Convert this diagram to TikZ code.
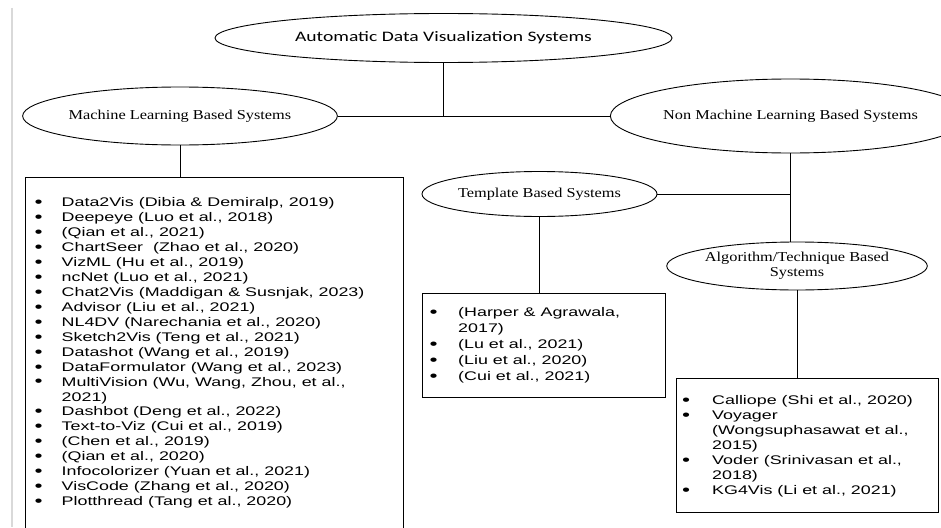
\documentclass[tikz,border=0pt]{standalone}
\usepackage{fontspec}
\usetikzlibrary{shapes.geometric}
\newfontfamily\ttlfont[FakeStretch=1.35]{Carlito}
\newfontfamily\serfont[FakeStretch=1.2]{Liberation Serif}
\newfontfamily\lstfont[FakeStretch=1.43]{Liberation Sans}
\newcommand\bigbul{\raisebox{-0.9pt}{\fontsize{16}{0}\selectfont\textbullet}}
\newcommand\blA{\makebox[27pt][l]{\bigbul}}
\newcommand\nbA{\hspace*{27pt}}
\newcommand\blB{\makebox[28.5pt][l]{\bigbul}}
\newcommand\nbB{\hspace*{28.5pt}}
\newcommand\blC{\makebox[30pt][l]{\bigbul}}
\newcommand\nbC{\hspace*{30pt}}
\begin{document}
\begin{tikzpicture}[x=1pt,y=-1pt,
  ell/.style={draw, ellipse, inner sep=0pt, line width=0.9pt, font=\serfont\fontsize{13.6}{15}\selectfont, align=center},
  conn/.style={draw, line width=0.8pt},
  boxst/.style={draw, line width=0.8pt, rectangle, inner sep=0pt},
  lst/.style={anchor=north west, inner sep=0pt, align=left}
]
\useasboundingbox (0,0) rectangle (941,527);
\fill[white] (0,0) rectangle (941,527);
% page edge line
\coordinate (pgtop) at (11.5,8);
\coordinate (pgbot) at (11.5,527);
\draw[line width=2pt, black!15] (pgtop) -- (pgbot);

% ellipses
\node[ell, minimum width=457pt, minimum height=49pt, font=\ttlfont\fontsize{14.5}{16}\selectfont] (top) at (443.5,38) {Automatic Data Visualization Systems};
\node[ell, minimum width=244pt, minimum height=58pt] (ml) at (180,116) {Machine Learning Based Systems};
\node[ell, minimum width=297pt, minimum height=74pt] (nml) at (790.5,116) {Non Machine Learning Based Systems};
\node[ell, minimum width=235pt, minimum height=45pt] (tmpl) at (539.5,194) {Template Based Systems};
\node[ell, minimum width=243pt, minimum height=48pt] (alg) at (797,266) {Algorithm/Technique Based\\Systems};

% boxes
\node[boxst, minimum width=378pt, minimum height=370pt, anchor=north west] (mlbox) at (25,177) {};
\node[boxst, minimum width=243pt, minimum height=104pt, anchor=north west] (tbox) at (422,293) {};
\node[boxst, minimum width=262pt, minimum height=134pt, anchor=north west] (abox) at (676,378) {};

% connectors
\coordinate (junc) at (top.south |- ml.east);
\draw[conn] (top.south) -- (junc);
\draw[conn] (ml.east) -- (nml.west);
\draw[conn] (ml.south) -- (ml.south |- mlbox.north);
\coordinate (nmlfoot) at (nml.south |- alg.north);
\draw[conn] (nml.south) -- (nmlfoot);
\draw[conn] (tmpl.east) -- (tmpl.east -| nml.south);
\draw[conn] (tmpl.south) -- (tmpl.south |- tbox.north);
\draw[conn] (alg.south) -- (alg.south |- abox.north);

% lists
\node[lst, font=\lstfont\fontsize{12.5}{14.95}\selectfont] (mllist) at (34.5,196) {%
\begin{tabular}{@{}l@{}}
\blA Data2Vis (Dibia \& Demiralp, 2019)\\
\blA Deepeye (Luo et al., 2018)\\
\blA (Qian et al., 2021)\\
\blA ChartSeer\ \ (Zhao et al., 2020)\\
\blA VizML (Hu et al., 2019)\\
\blA ncNet (Luo et al., 2021)\\
\blA Chat2Vis (Maddigan \& Susnjak, 2023)\\
\blA Advisor (Liu et al., 2021)\\
\blA NL4DV (Narechania et al., 2020)\\
\blA Sketch2Vis (Teng et al., 2021)\\
\blA Datashot (Wang et al., 2019)\\
\blA DataFormulator (Wang et al., 2023)\\
\blA MultiVision (Wu, Wang, Zhou, et al.,\\
\nbA 2021)\\
\blA Dashbot (Deng et al., 2022)\\
\blA Text-to-Viz (Cui et al., 2019)\\
\blA (Chen et al., 2019)\\
\blA (Qian et al., 2020)\\
\blA Infocolorizer (Yuan et al., 2021)\\
\blA VisCode (Zhang et al., 2020)\\
\blA Plotthread (Tang et al., 2020)
\end{tabular}};

\node[lst, font=\lstfont\fontsize{12.5}{16}\selectfont] (tlist) at (429.5,305.3) {%
\begin{tabular}{@{}l@{}}
\blB (Harper \& Agrawala,\\
\nbB 2017)\\
\blB (Lu et al., 2021)\\
\blB (Liu et al., 2020)\\
\blB (Cui et al., 2021)
\end{tabular}};

\node[lst, font=\lstfont\fontsize{12.5}{15}\selectfont] (alist) at (682,394) {%
\begin{tabular}{@{}l@{}}
\blC Calliope (Shi et al., 2020)\\
\blC Voyager\\
\nbC (Wongsuphasawat et al.,\\
\nbC 2015)\\
\blC Voder (Srinivasan et al.,\\
\nbC 2018)\\
\blC KG4Vis (Li et al., 2021)
\end{tabular}};
\end{tikzpicture}
\end{document}
